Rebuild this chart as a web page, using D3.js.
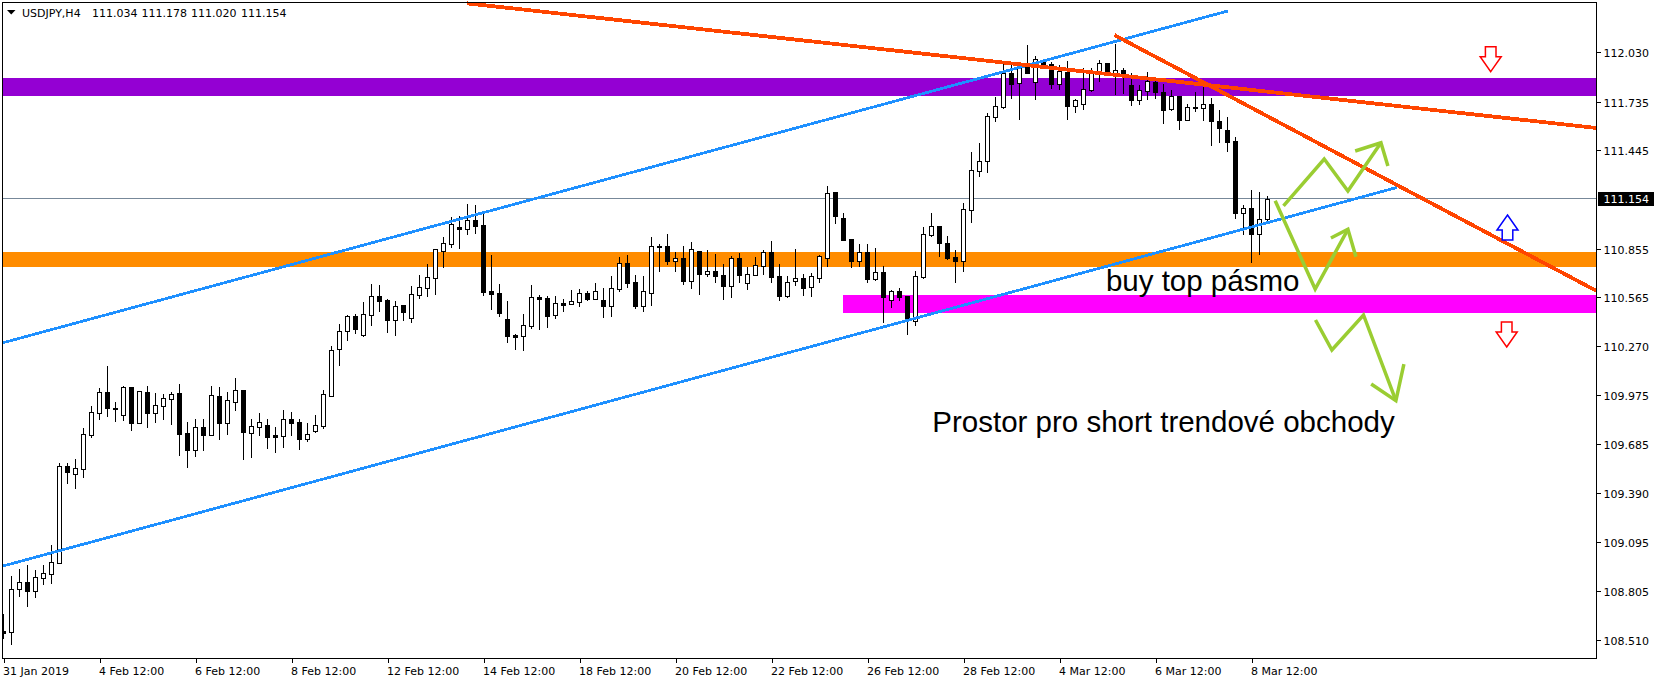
<!DOCTYPE html>
<html><head><meta charset="utf-8">
<script src="https://cdn.jsdelivr.net/npm/d3@7"></script>
<style>
html,body{margin:0;padding:0;background:#fff;overflow:hidden}
svg{display:block}
text{font-family:"DejaVu Sans",sans-serif;font-size:11px;fill:#000}
.big{font-family:"Liberation Sans",Arial,sans-serif;font-size:29.5px}
</style></head><body>
<script>
const symbolLabel = "USDJPY,H4";
const quote = [111.034, 111.178, 111.020, 111.154];
const lastPrice = 111.154;
const openP = [108.564,108.558,108.816,108.858,108.804,108.882,108.906,108.972,109.553,109.505,109.535,109.738,109.870,109.996,109.900,109.858,110.026,109.810,109.996,109.870,109.912,109.954,109.990,109.750,109.648,109.786,109.738,109.972,109.810,109.936,110.008,109.750,109.786,109.798,109.738,109.732,109.834,109.816,109.714,109.762,109.792,109.972,110.253,110.361,110.451,110.337,110.457,110.571,110.547,110.427,110.517,110.439,110.577,110.618,110.678,110.840,110.882,110.984,110.972,111.026,110.996,110.600,110.589,110.433,110.337,110.331,110.391,110.565,110.559,110.457,110.529,110.523,110.535,110.589,110.553,110.547,110.511,110.612,110.768,110.654,110.511,110.589,110.870,110.870,110.780,110.798,110.660,110.840,110.702,110.720,110.696,110.630,110.798,110.648,110.696,110.750,110.834,110.690,110.571,110.660,110.678,110.624,110.678,110.798,111.193,111.038,110.912,110.780,110.834,110.672,110.714,110.547,110.600,110.571,110.421,110.684,110.936,110.990,110.888,110.804,110.780,111.086,111.319,111.379,111.642,111.702,111.906,111.846,111.942,111.852,111.972,111.960,111.840,111.912,111.708,111.720,111.804,111.906,111.966,111.906,111.924,111.834,111.744,111.798,111.852,111.792,111.690,111.768,111.624,111.702,111.696,111.720,111.618,111.565,111.499,111.068,111.098,110.942,111.034];
const highP = [108.672,108.900,108.942,108.966,108.936,108.966,109.086,109.577,109.577,109.601,109.786,109.918,110.026,110.157,109.942,110.038,110.032,110.002,110.038,109.996,109.990,110.002,110.050,109.822,109.840,109.840,110.038,110.032,110.002,110.086,110.014,109.840,109.876,109.840,109.792,109.894,109.882,109.840,109.816,109.864,110.014,110.277,110.409,110.463,110.469,110.541,110.648,110.642,110.559,110.547,110.517,110.636,110.702,110.768,110.858,110.930,111.050,111.056,111.127,111.121,111.086,110.822,110.648,110.547,110.349,110.469,110.642,110.583,110.577,110.577,110.559,110.612,110.618,110.606,110.654,110.624,110.696,110.810,110.822,110.702,110.696,110.930,110.888,110.948,110.840,110.876,110.900,110.840,110.852,110.828,110.768,110.816,110.834,110.750,110.810,110.852,110.906,110.768,110.696,110.858,110.708,110.714,110.822,111.235,111.193,111.074,110.912,110.888,110.888,110.864,110.756,110.612,110.624,110.577,110.726,110.990,111.074,110.990,110.936,110.852,111.133,111.439,111.493,111.672,111.768,111.984,111.966,111.978,112.079,112.014,111.996,111.978,111.960,111.984,111.756,111.942,111.942,111.990,111.972,112.085,111.942,111.912,111.840,111.918,111.888,111.846,111.810,111.768,111.726,111.798,111.834,111.762,111.690,111.648,111.529,111.121,111.211,111.199,111.178];
const lowP = [108.523,108.487,108.774,108.714,108.768,108.846,108.852,108.972,109.451,109.421,109.487,109.726,109.834,109.852,109.822,109.828,109.768,109.810,109.786,109.816,109.834,109.804,109.618,109.547,109.612,109.648,109.738,109.714,109.744,109.888,109.595,109.606,109.738,109.660,109.636,109.666,109.738,109.654,109.702,109.756,109.780,109.972,110.157,110.307,110.349,110.331,110.397,110.481,110.355,110.337,110.427,110.415,110.559,110.571,110.583,110.744,110.864,110.858,110.942,110.948,110.577,110.493,110.451,110.295,110.253,110.247,110.379,110.373,110.385,110.439,110.481,110.523,110.511,110.547,110.553,110.445,110.451,110.600,110.624,110.499,110.481,110.517,110.720,110.762,110.720,110.642,110.618,110.583,110.690,110.654,110.553,110.565,110.654,110.612,110.696,110.702,110.654,110.547,110.565,110.636,110.577,110.571,110.654,110.750,111.008,110.906,110.744,110.750,110.654,110.666,110.415,110.505,110.547,110.343,110.397,110.678,110.930,110.810,110.792,110.654,110.720,111.014,111.289,111.313,111.618,111.696,111.756,111.630,111.906,111.750,111.936,111.816,111.810,111.630,111.672,111.690,111.798,111.858,111.900,111.780,111.786,111.714,111.720,111.750,111.756,111.606,111.684,111.571,111.624,111.678,111.624,111.475,111.493,111.439,111.038,110.942,110.774,110.822,111.020];
const closeP = [108.552,108.816,108.858,108.804,108.888,108.912,108.978,109.553,109.517,109.541,109.744,109.876,109.996,109.900,109.894,110.026,109.810,110.002,109.870,109.918,109.960,109.984,109.744,109.648,109.786,109.738,109.978,109.810,109.948,110.008,109.756,109.792,109.816,109.726,109.726,109.834,109.810,109.714,109.744,109.798,109.984,110.247,110.361,110.451,110.373,110.463,110.571,110.541,110.427,110.511,110.475,110.583,110.624,110.684,110.852,110.888,111.002,110.972,111.026,110.990,110.595,110.583,110.469,110.331,110.325,110.397,110.565,110.553,110.451,110.529,110.517,110.541,110.589,110.553,110.600,110.511,110.618,110.768,110.648,110.511,110.600,110.870,110.864,110.780,110.798,110.660,110.852,110.702,110.720,110.690,110.630,110.798,110.696,110.702,110.756,110.834,110.684,110.571,110.654,110.678,110.618,110.690,110.810,111.187,111.050,110.906,110.780,110.834,110.672,110.714,110.565,110.600,110.565,110.427,110.690,110.942,110.990,110.888,110.798,110.780,111.092,111.325,111.379,111.648,111.708,111.906,111.840,111.948,111.906,111.990,111.954,111.840,111.918,111.708,111.744,111.810,111.906,111.966,111.906,111.924,111.894,111.744,111.804,111.858,111.792,111.684,111.768,111.624,111.702,111.696,111.720,111.618,111.577,111.493,111.068,111.098,110.942,111.034,111.154];
// ticks
const priceTicks = [112.030,111.735,111.445,110.855,110.565,110.270,109.975,109.685,109.390,109.095,108.805,108.510];
const timeTickIndex = [0,12,24,36,48,60,72,84,96,108,120,132,144,156];
const timeTickLabels = ["31 Jan 2019","4 Feb 12:00","6 Feb 12:00","8 Feb 12:00","12 Feb 12:00","14 Feb 12:00","18 Feb 12:00","20 Feb 12:00","22 Feb 12:00","26 Feb 12:00","28 Feb 12:00","4 Mar 12:00","6 Mar 12:00","8 Mar 12:00"];
// zones [start index, top price, bottom price]
const zonePurple = [-0.15,111.876,111.768];
const zoneOrange = [-0.15,110.834,110.744];
const zoneMagenta = [104.96,110.577,110.469];
// trend lines [index, price] pairs
const blueUpper = [[-0.04,110.291],[153.09,112.278]];
const blueLower = [[-0.04,108.954],[174.21,111.221]];
const redLong = [[57.96,112.323],[199.09,111.577]];
const redSteep = [[138.875,112.133],[199.09,110.602]];
// green scenario arrows
const greenA = [[160,111.110],[165.09,111.391],[168.05,111.199],[172.18,111.488]];
const greenAHead = [[168.96,111.439],[172.18,111.488],[173.05,111.349]];
const greenB = [[158.96,111.141],[163.96,110.612],[168.05,110.970]];
const greenBHead = [[165.93,110.918],[168.05,110.970],[169.05,110.806]];
const greenC = [[164,110.427],[166.05,110.247],[170,110.457],[174.05,109.944]];
const greenCHead = [[170.96,110.044],[174.05,109.944],[175.05,110.163]];
// block arrows [index, tip price, direction, colour]
const blockArrows = [[185.9,111.914,1,"#ff0000"],[188,111.056,-1,"#0000ff"],[187.9,110.265,1,"#ff0000"]];
const notes = [["buy top pásmo",137.8,110.603],["Prostor pro short trendové obchody",116.1,109.758]];

const W=1660,H=683,L=2.5,R=1596.5,T=2.5,B=658.5;
const x=d3.scaleLinear().domain([0,1]).range([3.5,11.5]);
const y=d3.scaleLinear().domain([112.030,108.510]).range([52.3,640.1]);
const svg=d3.select("body").append("svg").attr("width",W).attr("height",H);
svg.append("rect").attr("width",W).attr("height",H).attr("fill","#fff");
const snap=v=>Math.round(v)+0.5;

// zones
[[zonePurple,"#9400d3"],[zoneOrange,"#ff8c00"],[zoneMagenta,"#ff00ff"]].forEach(([z,c])=>{
  const x0=x(z[0]);
  svg.append("rect").attr("x",x0).attr("width",R-x0)
    .attr("y",Math.round(y(z[1]))).attr("height",Math.round(y(z[2]))-Math.round(y(z[1])))
    .attr("fill",c).attr("shape-rendering","crispEdges");
});
// last price line
const lastY=Math.floor(y(lastPrice))+0.5;
svg.append("line").attr("x1",L).attr("x2",R).attr("y1",lastY).attr("y2",lastY)
  .attr("stroke","#778899").attr("stroke-width",1).attr("shape-rendering","crispEdges");

// candles
const idx=d3.range(openP.length);
svg.append("clipPath").attr("id","plot").append("rect").attr("x",L).attr("y",T).attr("width",R-L).attr("height",B-T);
const g=svg.append("g").attr("shape-rendering","crispEdges").attr("clip-path","url(#plot)");
g.selectAll("line").data(idx).join("line")
  .attr("x1",i=>x(i)).attr("x2",i=>x(i))
  .attr("y1",i=>snap(y(highP[i]))).attr("y2",i=>snap(y(lowP[i])))
  .attr("stroke","#000").attr("stroke-width",1);
g.selectAll("rect").data(idx).join("rect")
  .attr("x",i=>x(i)-2).attr("width",4)
  .attr("y",i=>snap(y(Math.max(openP[i],closeP[i]))))
  .attr("height",i=>snap(y(Math.min(openP[i],closeP[i])))-snap(y(Math.max(openP[i],closeP[i]))))
  .attr("fill",i=>closeP[i]>=openP[i]?"#fff":"#000")
  .attr("stroke","#000").attr("stroke-width",1);

// trend lines
const ln=d3.line().x(d=>x(d[0])).y(d=>y(d[1]));
[[blueUpper,"#1e90ff",2.8],[blueLower,"#1e90ff",2.8],[redLong,"#ff4500",3.8],[redSteep,"#ff4500",3.8]].forEach(([p,c,w])=>{
  svg.append("path").attr("d",ln(p)).attr("fill","none").attr("stroke",c).attr("stroke-width",w).attr("shape-rendering","crispEdges");
});
[greenA,greenAHead,greenB,greenBHead,greenC,greenCHead].forEach(p=>{
  svg.append("path").attr("d",ln(p)).attr("fill","none").attr("stroke","#9acd32").attr("stroke-width",3.5).attr("stroke-linejoin","miter");
});
// block arrows
blockArrows.forEach(([i,p,dir,c])=>{
  const cx=x(i),ty=y(p),s=-dir; // s: +1 body extends downward from tip for up arrows
  const pts=[[0,0],[10.5,15*s],[5.3,15*s],[5.3,25*s],[-5.3,25*s],[-5.3,15*s],[-10.5,15*s]];
  svg.append("path").attr("d",d3.line()(pts.map(q=>[cx+q[0],ty+q[1]]))+"Z")
    .attr("fill","#fff").attr("stroke",c).attr("stroke-width",1.5);
});
// notes
notes.forEach(([t,i,p])=>{
  svg.append("text").attr("class","big").attr("x",x(i)).attr("y",y(p)).text(t);
});

// frame
svg.append("rect").attr("x",L).attr("y",T).attr("width",R-L).attr("height",B-T)
  .attr("fill","none").attr("stroke","#000").attr("stroke-width",1).attr("shape-rendering","crispEdges");

// axes
const ay=svg.append("g").attr("transform",`translate(${R},0)`)
  .call(d3.axisRight(y).tickValues(priceTicks).tickFormat(d3.format(".3f")).tickSize(4).tickPadding(3));
ay.select(".domain").remove();
ay.selectAll("line").attr("stroke","#000").attr("shape-rendering","crispEdges");
ay.selectAll("text").attr("fill","#000").attr("transform","translate(0,1)");
const ax=svg.append("g").attr("transform",`translate(0,${B})`)
  .call(d3.axisBottom(x).tickValues(timeTickIndex).tickFormat((d,i)=>timeTickLabels[i]).tickSize(4).tickPadding(5));
ax.select(".domain").remove();
ax.selectAll("line").attr("stroke","#000").attr("shape-rendering","crispEdges");
ax.selectAll("text").attr("text-anchor","start").attr("dx",-1).attr("fill","#000");

// last price tag
svg.append("rect").attr("x",R+1.5).attr("y",lastY-6.5).attr("width",56).attr("height",14).attr("fill","#000").attr("shape-rendering","crispEdges");
svg.append("text").attr("x",R+7).attr("y",lastY+4.5).style("fill","#fff").text(d3.format(".3f")(lastPrice));

// header
svg.append("path").attr("d","M7,10L15.5,10L11.25,14.5Z").attr("fill","#000");
svg.append("text").attr("x",22).attr("y",17).text(symbolLabel);
[92,141.5,191,241].forEach((px,i)=>svg.append("text").attr("x",px).attr("y",17).text(d3.format(".3f")(quote[i])));
</script>
</body></html>
